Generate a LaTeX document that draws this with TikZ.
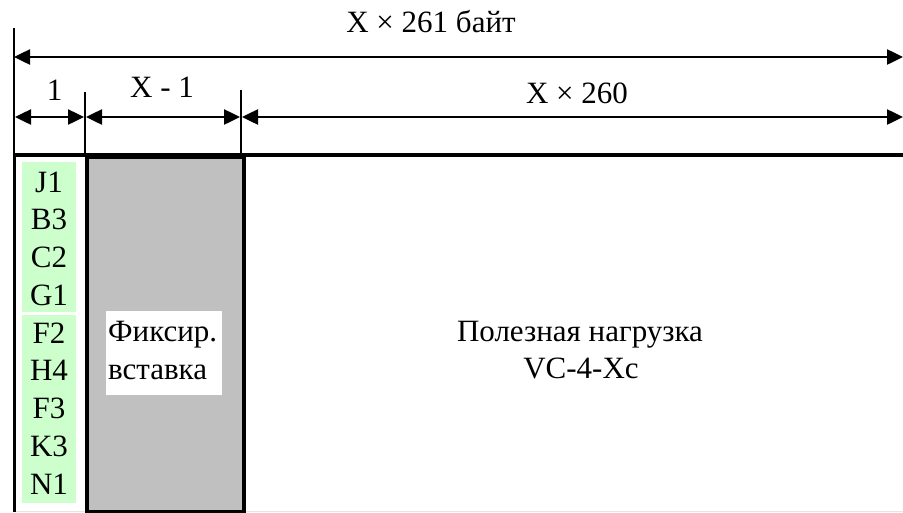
\documentclass[tikz,border=0pt]{standalone}
\usepackage{fontspec}
\setmainfont{Liberation Serif}
\usetikzlibrary{arrows.meta}
\definecolor{cellgreen}{HTML}{CCFFCC}
\definecolor{fixgray}{HTML}{C0C0C0}
\definecolor{edgegray}{HTML}{E6E6E6}
\begin{document}
\begin{tikzpicture}[x=1pt,y=-1pt,
  lbl/.style={font=\fontsize{31}{37.75}\selectfont, inner sep=0pt, anchor=base},
  dim/.style={line width=2.5pt,
    {Triangle[length=16pt,width=15pt]}-{Triangle[length=16pt,width=15pt]}},
  tick/.style={line width=1.8pt},
  frameline/.style={line width=4pt},
  greenbox/.style={fill=cellgreen, inner sep=0pt, anchor=north west, minimum width=54pt},
]
\useasboundingbox (0,0) rectangle (903,512);

% dimension ticks
\coordinate (t0) at (14,28);   \coordinate (b0) at (14,155);
\coordinate (t1) at (85,92);   \coordinate (b1) at (85,155);
\coordinate (t2) at (241,90);  \coordinate (b2) at (241,155);
\coordinate (rtop) at (903,57);
\coordinate (rmid) at (903,117);
\draw[tick] (t0) -- (b0);
\draw[tick] (t1) -- (b1);
\draw[tick] (t2) -- (b2);

% dimension arrows
\coordinate (a0) at (14,57);
\coordinate (m0) at (14,117);
\coordinate (m1) at (85,117);
\coordinate (m2) at (241,117);
\draw[dim] (a0) -- (rtop);
\draw[dim, shorten <=1pt, shorten >=1pt] (m0) -- (m1);
\draw[dim, shorten <=1pt, shorten >=1pt] (m1) -- (m2);
\draw[dim, shorten <=1pt] (m2) -- (rmid);

% dimension labels
\node[lbl] (ltotal) at (431,32) {X × 261 байт};
\node[lbl] (lone) at (54.5,100) {1};
\node[lbl] (lxm) at (162,97) {X - 1};
\node[lbl] (lpay) at (577,103) {X × 260};

% frame
\draw[edgegray, line width=1.2pt] (14,511.4) -- (903,511.4);
\node (fix) [draw, frameline, fill=fixgray, minimum width=157pt, minimum height=355pt,
  inner sep=0pt, anchor=north west] at (85,155) {};
\draw[frameline] (14,155) -- (903,155);
\draw[line width=3pt] (14,153) -- (14,512);

% overhead column
\node[greenbox, minimum height=150pt] (poh) at (22,162) {};
\node[greenbox, minimum height=188pt] (loh) at (22,315) {};
\node[lbl] (j1) at (49,192) {J1};
\node[lbl] (b3) at (49,229.75) {B3};
\node[lbl] (c2) at (49,267.5) {C2};
\node[lbl] (g1) at (49,305.25) {G1};
\node[lbl] (f2) at (49,343) {F2};
\node[lbl] (h4) at (49,380.75) {H4};
\node[lbl] (f3) at (49,418.5) {F3};
\node[lbl] (k3) at (49,456.25) {K3};
\node[lbl] (n1) at (49,494) {N1};

% fixed stuff label
\node[fill=white, inner sep=0pt, anchor=north west, minimum width=116pt, minimum height=84pt]
  (fixbg) at (106,311) {};
\node[lbl, anchor=base west] (fixa) at (108,341.7) {Фиксир.};
\node[lbl, anchor=base west] (fixb) at (108,379.3) {вставка};

% payload
\node[lbl] (paya) at (580,341) {Полезная нагрузка};
\node[lbl] (payb) at (581,378.5) {VC-4-Xc};
\end{tikzpicture}
\end{document}
